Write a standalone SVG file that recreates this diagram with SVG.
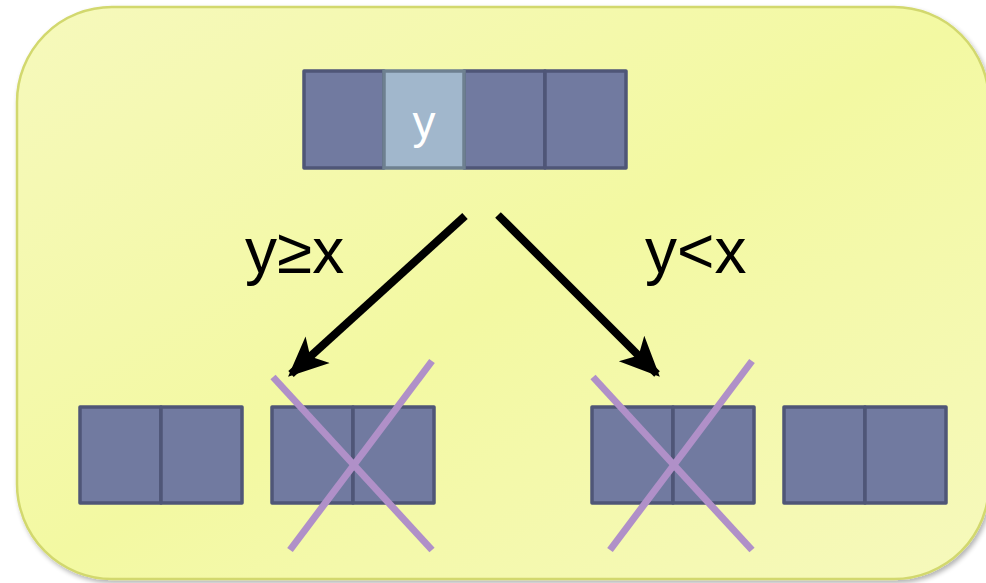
<svg xmlns="http://www.w3.org/2000/svg" width="986" height="583" viewBox="0 0 986 583">
<defs>
<linearGradient id="bg" x1="0" y1="0" x2="1" y2="1">
<stop offset="0" stop-color="#f6f9bc"/>
<stop offset="0.5" stop-color="#f3f9a2"/>
<stop offset="1" stop-color="#f6f9bc"/>
</linearGradient>
<filter id="sh" x="-5%" y="-5%" width="110%" height="110%">
<feGaussianBlur in="SourceAlpha" stdDeviation="2.5"/>
<feOffset dx="2" dy="3"/>
<feComponentTransfer><feFuncA type="linear" slope="0.3"/></feComponentTransfer>
<feMerge><feMergeNode/><feMergeNode in="SourceGraphic"/></feMerge>
</filter>
<marker id="ah" viewBox="0 0 10 10" refX="9" refY="5" markerWidth="5" markerHeight="5" orient="auto" markerUnits="strokeWidth">
<path d="M0,0.5 L10,5 L0,9.5 L2.5,5 z" fill="#000"/>
</marker>
<style>
.cell{fill:#717aa0;stroke:#4f5677;stroke-width:3.5;stroke-linejoin:round}
.hl{fill:#a1b7cc;stroke:#6e8090;stroke-width:3.5}
.cross{stroke:#b090c8;stroke-width:7;stroke-linecap:butt}
.lbl{font-family:"Liberation Sans",Arial,sans-serif;font-size:64px;fill:#000}
.arrow{stroke:#000;stroke-width:8;fill:none}
</style>
</defs>
<rect x="17" y="7" width="972" height="572" rx="95" ry="95" fill="url(#bg)" stroke="#d2d86e" stroke-width="2.5" filter="url(#sh)"/>
<g id="top-array">
<rect class="cell" x="304" y="71" width="80" height="97"/>
<rect class="cell" x="464" y="71" width="81" height="97"/>
<rect class="cell" x="545" y="71" width="81" height="97"/>
<rect class="hl" x="384" y="71" width="80" height="97"/>
<text x="424" y="138" text-anchor="middle" font-family="Liberation Sans, Arial, sans-serif" font-size="46" fill="#fff">y</text>
</g>
<g id="connectors">
<line class="arrow" x1="465" y1="216" x2="291" y2="374" marker-end="url(#ah)"/>
<line class="arrow" x1="498" y1="215" x2="657" y2="374" marker-end="url(#ah)"/>
</g>
<g id="label-left"><text class="lbl" x="245" y="273">y≥x</text></g>
<g id="label-right"><text class="lbl" x="645" y="273">y&lt;x</text></g>
<g id="left-keep">
<rect class="cell" x="80" y="407" width="81" height="96"/>
<rect class="cell" x="161" y="407" width="81" height="96"/>
</g>
<g id="left-discard">
<rect class="cell" x="272" y="407" width="81" height="96"/>
<rect class="cell" x="353" y="407" width="81" height="96"/>
<line class="cross" x1="273" y1="377" x2="432" y2="550"/>
<line class="cross" x1="432" y1="361" x2="290" y2="550"/>
</g>
<g id="right-discard">
<rect class="cell" x="592" y="407" width="81" height="96"/>
<rect class="cell" x="673" y="407" width="81" height="96"/>
<line class="cross" x1="593" y1="377" x2="752" y2="550"/>
<line class="cross" x1="752" y1="361" x2="610" y2="550"/>
</g>
<g id="right-keep">
<rect class="cell" x="784" y="407" width="81" height="96"/>
<rect class="cell" x="865" y="407" width="81" height="96"/>
</g>
</svg>
